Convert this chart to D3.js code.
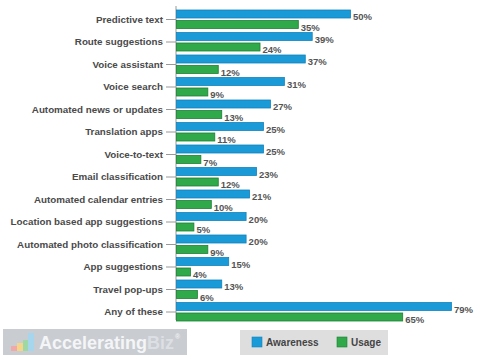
<!DOCTYPE html>
<html><head><meta charset="utf-8">
<script src="https://cdn.jsdelivr.net/npm/d3@7"></script>
<style>body{margin:0;background:#fff}svg{display:block}</style>
</head><body>
<svg id="c" width="500" height="358"></svg>
<script>
const categories = ["Predictive text","Route suggestions","Voice assistant","Voice search","Automated news or updates","Translation apps","Voice-to-text","Email classification","Automated calendar entries","Location based app suggestions","Automated photo classification","App suggestions","Travel pop-ups","Any of these"];
const awareness = [50,39,37,31,27,25,25,23,21,20,20,15,13,79];
const usage = [35,24,12,9,13,11,7,12,10,5,9,4,6,65];
const seriesNames = ["Awareness","Usage"];
const colors = ["#1a9ad6","#2fa94a"];
const strokes = ["#1283bd","#1d7f35"];

const svg = d3.select("#c");
const x = d3.scaleLinear().domain([0,100]).range([176,524]);
const y = d3.scaleBand().domain(categories).range([8.25,323.25]).paddingInner(0).paddingOuter(0);
const font = "Arial, 'Liberation Sans', sans-serif";

// axis
const yAxis = d3.axisLeft(y).tickSize(10).tickSizeOuter(0).tickPadding(3);
const gA = svg.append("g").attr("transform","translate(176,0)").call(yAxis);
gA.select(".domain").attr("stroke","#999").attr("d","M0,6V320");
gA.selectAll(".tick line").attr("stroke","#999");
gA.selectAll(".tick text").attr("font-family",font).attr("font-size","9.8px").attr("font-weight","bold").attr("fill","#4a4a4a");

const series = [awareness, usage];
const offs = [-9.5, 1];
series.forEach((vals,si)=>{
  const g = svg.append("g");
  g.selectAll("rect").data(categories).join("rect")
    .attr("x", x(0)+0.5)
    .attr("y",(d,i)=> y(d)+y.bandwidth()/2+offs[si])
    .attr("width",(d,i)=> x(vals[i])-x(0))
    .attr("height",8)
    .attr("fill",colors[si]).attr("stroke",strokes[si]).attr("stroke-width",0.8);
  g.selectAll("text").data(categories).join("text")
    .attr("x",(d,i)=> x(vals[i])+3)
    .attr("y",(d,i)=> y(d)+y.bandwidth()/2+offs[si]+10)
    .attr("font-family",font).attr("font-size","9.5px").attr("font-weight","bold").attr("fill","#555")
    .text((d,i)=> vals[i]+"%");
});

// logo
const lg = svg.append("g");
lg.append("rect").attr("x",3).attr("y",329).attr("width",184).attr("height",26).attr("fill","#c9ccd1");
lg.append("rect").attr("x",11).attr("y",346).attr("width",6).attr("height",5).attr("fill","#f0a8a8");
lg.append("rect").attr("x",17).attr("y",343).attr("width",6).attr("height",8).attr("fill","#f4d58a");
lg.append("rect").attr("x",23).attr("y",340).attr("width",5).attr("height",11).attr("fill","#9ed8a4");
lg.append("rect").attr("x",28).attr("y",333).attr("width",6).attr("height",18).attr("fill","#a6d6ee");
const lt = lg.append("text").attr("x",39).attr("y",349).attr("font-family",font).attr("font-size","18px").attr("font-weight","bold").attr("fill","#f4f5f7");
lt.append("tspan").text("Accelerating");
lt.append("tspan").attr("fill","#dcdfe3").text("Biz");
lg.append("text").attr("x",175).attr("y",339).attr("font-family",font).attr("font-size","7px").attr("font-weight","bold").attr("fill","#eef0f2").text("®");

// legend
const leg = svg.append("g");
leg.append("rect").attr("x",240).attr("y",330).attr("width",148).attr("height",25).attr("fill","#dedede");
const lx = [252,337];
seriesNames.forEach((n,i)=>{
  leg.append("rect").attr("x",lx[i]).attr("y",337).attr("width",10).attr("height",10).attr("fill",colors[i]).attr("stroke",strokes[i]).attr("stroke-width",0.6);
  leg.append("text").attr("x",lx[i]+14).attr("y",346).attr("font-family",font).attr("font-size","10px").attr("font-weight","bold").attr("fill","#444").text(n);
});
</script>
</body></html>
